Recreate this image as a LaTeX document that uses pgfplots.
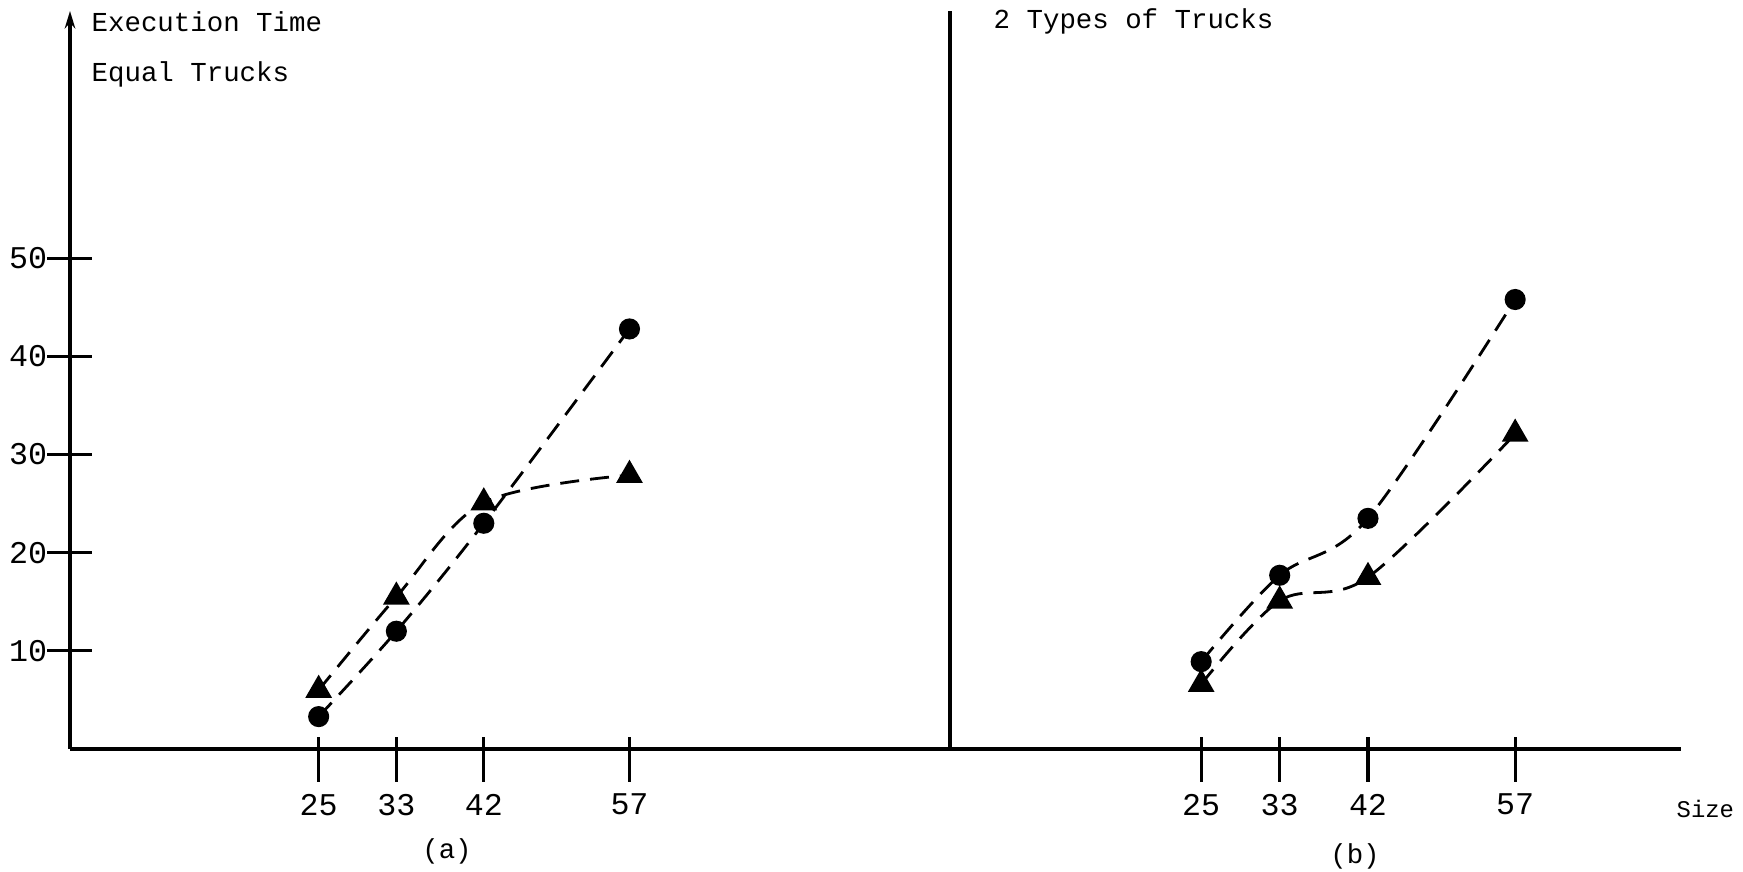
\documentclass[border=0pt]{standalone}
\usepackage{pgfplots}
\pgfplotsset{compat=1.18}
\usepackage{fontspec}
\setmainfont{Liberation Mono}
\usetikzlibrary{arrows.meta}

\pgfplotsset{
  panel/.style={
    scale only axis,
    height=7.38cm,
    ymin=0, ymax=75.2,
    axis x line*=bottom,
    axis y line*=left,
    axis line style={line width=0.9pt},
    tick align=center,
    major tick length=0.45cm,
    tick style={line width=0.9pt, black},
    xtick={25,33,42,57},
    xtick style={yshift=-0.105cm},
    tick label style={font=\fontsize{9}{10}\selectfont},
    xticklabel style={yshift=-0.10cm},
    yticklabel style={xshift=0.12cm},
    /pgf/number format/assume math mode=true,
    clip=false,
  },
  curve/.style={black, line width=0.8pt, dash pattern=on 0.19cm off 0.11cm, smooth, tension=0.55},
  circ/.style={mark=*, mark size=2.6pt, mark options={solid}},
  tri/.style={mark=triangle*, mark size=3.6pt, mark options={solid}},
}

\begin{document}
\begin{tikzpicture}
\useasboundingbox (0,0) rectangle (17.43,8.72);

\begin{axis}[panel,
  at={(0.70cm,1.23cm)}, anchor=south west,
  width=8.80cm, xmin=-0.6, xmax=90,
  ytick={10,20,30,40,50},
  y axis line style={-{Stealth[length=5pt,width=3pt]}},
]
\addplot[curve, circ] coordinates {(25,3.3) (33,12.0) (42,23.0) (57,42.8)};
\addplot[curve, tri] coordinates {(25,6.0) (33,15.5) (42,25.1) (57,27.9)};
\end{axis}

\begin{axis}[panel,
  at={(9.50cm,1.23cm)}, anchor=south west,
  width=7.31cm, xmin=-0.6, xmax=73.9,
  ytick=\empty,
]
\addplot[curve, circ] coordinates {(25,8.9) (33,17.7) (42,23.5) (57,45.8)};
\addplot[curve, tri] coordinates {(25,6.6) (33,15.1) (42,17.5) (57,32.1)};
\end{axis}

\begin{scope}[every node/.style={font=\fontsize{7.8}{9}\selectfont, inner sep=0pt}]
\node[anchor=base west] at (0.91,8.40) {Execution Time};
\node[anchor=base west] at (0.91,7.90) {Equal Trucks};
\node[anchor=base west] at (9.93,8.43) {2 Types of Trucks};
\node[anchor=base west, font=\fontsize{6.8}{8}\selectfont] at (16.76,0.54) {Size};
\node at (4.47,0.21) {(a)};
\node at (13.55,0.16) {(b)};
\end{scope}
\end{tikzpicture}
\end{document}
